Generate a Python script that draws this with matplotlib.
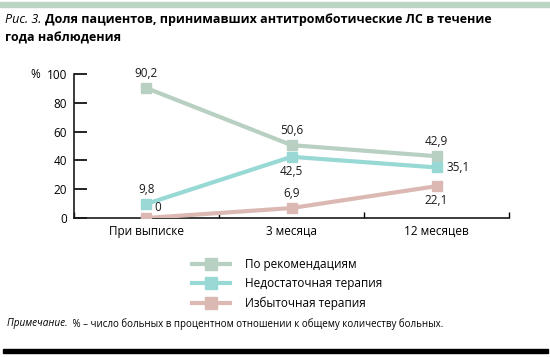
import matplotlib
matplotlib.use("Agg")
import matplotlib.pyplot as plt
from matplotlib.patches import Rectangle
from matplotlib.lines import Line2D

plt.rcParams['font.family'] = ['Open Sans', 'DejaVu Sans']

categories = ["При выписке", "3 месяца", "12 месяцев"]
series_names = ["По рекомендациям", "Недостаточная терапия", "Избыточная терапия"]
recommended = [90.2, 50.6, 42.9]
insufficient = [9.8, 42.5, 35.1]
excessive = [0.0, 6.9, 22.1]
yticks = [0, 20, 40, 60, 80, 100]

colors = ["#b8d0c1", "#98d8d5", "#dcb8b2"]
series = [recommended, insufficient, excessive]

# label offsets (points) per series per point
offsets = [
    [(0, 6, 'center', 'bottom'), (0, 6, 'center', 'bottom'), (0, 6, 'center', 'bottom')],
    [(0, 6, 'center', 'bottom'), (0, -6, 'center', 'top'), (7, 0, 'left', 'center')],
    [(6, 3, 'left', 'bottom'), (0, 6, 'center', 'bottom'), (0, -6, 'center', 'top')],
]


def fmt(v):
    if v == 0:
        return "0"
    return "{:.1f}".format(v).replace(".", ",")


fig = plt.figure(figsize=(5.5, 3.57), dpi=100)
ax = fig.add_axes([0.1345, 0.3894, 0.791, 0.4033])

x = [0, 1, 2]
for vals, col, offs in zip(series, colors, offsets):
    ax.plot(x, vals, color=col, lw=3, marker='s', ms=7, mec=col, mfc=col, zorder=3)
    for xi, v, (dx, dy, ha, va) in zip(x, vals, offs):
        ax.annotate(fmt(v), (xi, v), xytext=(dx, dy), textcoords='offset points',
                    ha=ha, va=va, fontsize=8.5, color='#1a1a1a')

ax.set_xlim(-0.5, 2.5)
ax.set_ylim(0, 100)
ax.set_yticks(yticks)
ax.set_xticks([-0.5, 0.5, 1.5, 2.5])
ax.set_xticklabels([])
ax.set_xticks(x, minor=True)
ax.set_xticklabels(categories, minor=True)
ax.tick_params(axis='x', which='minor', length=0, labelsize=8.5, pad=5)
ax.tick_params(axis='x', which='major', direction='in', length=4, width=1)
ax.tick_params(axis='y', direction='in', length=9, width=1.2, labelsize=8.5, pad=5)
for s in ['top', 'right']:
    ax.spines[s].set_visible(False)
ax.spines['left'].set_linewidth(1.2)
ax.spines['bottom'].set_linewidth(1.2)
ax.spines['left'].set_color('#1a1a1a')
ax.spines['bottom'].set_color('#1a1a1a')

fig.text(0.064, 0.7927, "%", fontsize=8.5, ha='center', va='center')

# legend
handles = [Line2D([0], [0], color=c, lw=3, marker='s', ms=8, mec=c, mfc=c) for c in colors]
fig.legend(handles, series_names, loc='upper left', bbox_to_anchor=(0.33, 0.308), frameon=False,
           fontsize=8.5, handlelength=3.2, handletextpad=1.3, labelspacing=0.55)

# title with mixed styles
renderer = fig.canvas.get_renderer()
t1 = fig.text(0.009, 0.946, "Рис. 3. ", fontsize=9, style='italic', va='center')
bb = t1.get_window_extent(renderer)
fig.text(bb.x1 / fig.bbox.width, 0.946,
         "Доля пациентов, принимавших антитромботические ЛС в течение",
         fontsize=9, weight='bold', va='center')
fig.text(0.009, 0.893, "года наблюдения", fontsize=9, weight='bold', va='center')

n1 = fig.text(0.013, 0.093, "Примечание. ", fontsize=7.2, style='italic', va='center')
bb = n1.get_window_extent(renderer)
fig.text(bb.x1 / fig.bbox.width, 0.093,
         " % – число больных в процентном отношении к общему количеству больных.",
         fontsize=7, va='center')

# decorative rules
fig.patches.append(Rectangle((0, 0.981), 1, 0.014, transform=fig.transFigure,
                             color='#bcd5c5', zorder=0))
fig.patches.append(Rectangle((0.005, 0.011), 0.992, 0.011, transform=fig.transFigure,
                             color='#000000', zorder=0))

fig.savefig("out.png", dpi=100)
